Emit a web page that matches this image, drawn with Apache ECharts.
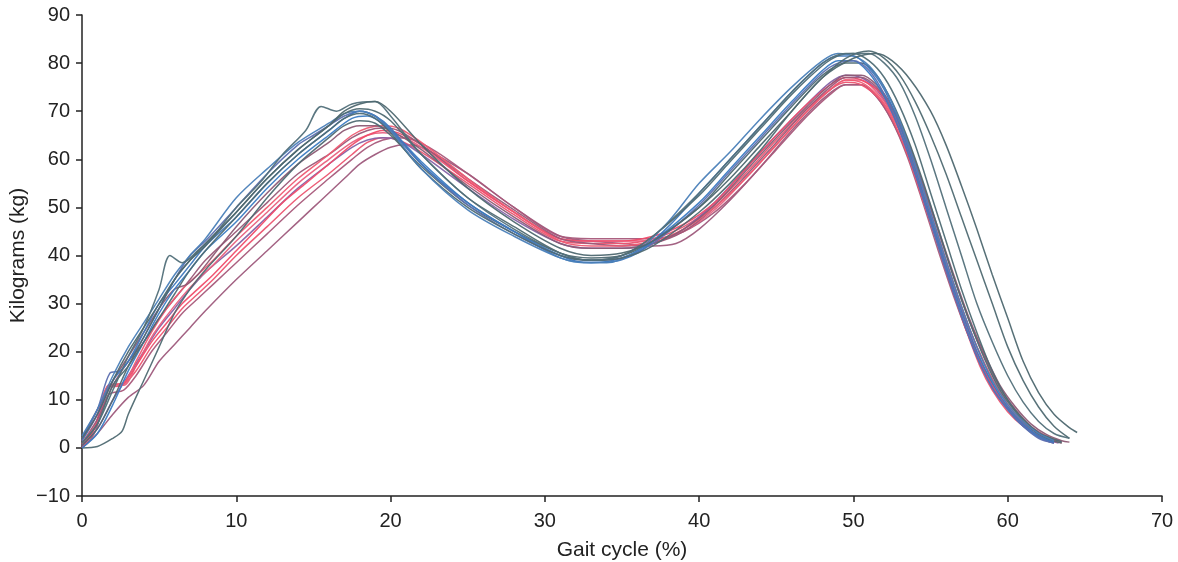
<!DOCTYPE html>
<html>
<head>
<meta charset="utf-8">
<script src="https://cdn.jsdelivr.net/npm/echarts@6/dist/echarts.min.js"></script>
<style>html,body{margin:0;padding:0;background:#fff}#c{width:1178px;height:562px}</style>
</head>
<body>
<div id="c"></div>
<script>
// ---- tick labels / axis ----
const xTicks = [0, 10, 20, 30, 40, 50, 60, 70];
const yTicks = [-10, 0, 10, 20, 30, 40, 50, 60, 70, 80, 90];
const xName = 'Gait cycle (%)';
const yName = 'Kilograms (kg)';

// ---- trials: [gait cycle %, kg] ----
const B1 = [[0,1],[1,5],[2,12],[3,19],[4,25],[5,33],[5.7,40],[6.5,38.5],[7.5,41],[8.5,44],[10,50],[11.5,55],[13,61],[14.5,66],[15.5,71],[16.5,70],[17.5,71.5],[19,72],[20,69],[22,61],[25,52],[28,45.5],[31,40.5],[33,39],[35,40],[37,44],[40,53],[42,60],[44,67],[46,74],[48,80],[49.5,82],[51,82],[52,80],[53,76],[54,69],[55,60],[56,50],[57,40],[58,30],[59,22],[60,15],[61,9.5],[62,5.5],[63,3],[64,2]];
const B2 = [[0,2],[1,7],[2,14],[3,20],[4,25],[5,30],[6,35],[7,39],[8,42.5],[10,49],[12,56],[14,62],[16,67],[17,70],[18,71.5],[19,72],[20,70],[22,63],[25,54],[28,47],[31,41.5],[33,40],[35,40.5],[37,43],[40,50],[42,56],[44,63],[46,70],[48,77],[50,81],[51.5,82],[52.5,80.5],[53.7,76.5],[55,70],[56,63],[57,54.5],[58,45.5],[59,36],[60,27],[61,18],[62,11.5],[63,7],[64,4.2],[64.5,3.2]];
const B3 = [[0,0.5],[1,4],[2,10],[3,17],[4,23],[5,29],[6,35],[7,39],[8,42],[10,49],[12,56],[14,62],[16,67],[17,69.5],[18,70.5],[19,70],[20,68],[22,61],[25,52],[28,46],[31,40.5],[33,39],[35,39.5],[37,42],[40,49],[42,55],[44,62],[46,70],[48,77],[49.5,81],[51,82.5],[52,81],[53,77.5],[54,72],[55,65],[56,57],[57,48],[58,39],[59,30],[60,21],[61,14],[62,8.5],[63,4.5],[64,2]];
const B4 = [[0,1.5],[1,7],[2,14],[3,18],[4,24],[5,30],[6,34],[7,38],[8,42],[10,48],[12,55],[14,61],[16,66],[17,68.5],[18,70],[19,69],[20,66.5],[22,59],[25,51],[28,45],[31,40],[32.5,38.6],[34,38.6],[36,40.5],[38,46],[40,53],[42,60],[44,67],[46,74],[48,80],[49,81.5],[50,81.5],[51,79],[52,74.5],[53,67],[54,58],[55,48],[56,38],[57,28.5],[58,20],[59,13.5],[60,8.5],[61,5],[62,2.5],[63,1.2]];
const B5 = [[0,0],[1,3],[2,9],[3,16],[4,22],[5,28],[6,33],[7,37],[8,41],[10,47],[12,54],[14,60],[16,65],[17.5,68.5],[18.5,69],[20,66],[22,59.5],[25,51],[28,45],[31,39.5],[33,38.5],[35,39.5],[37,43],[40,51],[42,58],[44,65],[46,72],[48,78.5],[49,80.5],[50,80.5],[51,78],[52,73],[53,66],[54,57],[55,47],[56,37],[57,27.5],[58,19],[59,12.5],[60,8],[61,4.5],[62,2.2],[63,1]];
const B6 = [[0,0],[1,0.3],[2,2],[2.6,3.5],[3,7],[4,14],[5,21],[6,28],[7,33],[8,37],[10,44],[12,52],[14,59],[16,64.5],[17,67],[18,68],[19,67.5],[20,65],[22,58.5],[25,50.5],[28,45],[31,40.5],[33,39.5],[35,40],[37,43],[40,50],[42,57],[44,64],[46,71],[48,77.5],[49.5,80],[50.5,80],[51.5,77.5],[52.5,72],[53.5,64.5],[54.5,55.5],[55.5,45.5],[56.5,35.5],[57.5,26.5],[58.5,18.5],[59.5,12],[60.5,7.5],[61.5,4],[62.5,2],[63.5,1]];
const B7 = [[0,2],[1,8],[1.8,15.5],[2.5,16],[3,18],[4,23],[5,29],[6,35],[7,40],[8,43],[10,50],[12,57],[14,63],[15,65],[16,67],[17,69],[18,70],[19,69],[20,66],[22,59],[25,50.5],[28,44.5],[31,40],[33,39],[35,39.5],[37,42.5],[40,50.5],[42,57.5],[44,64.5],[46,71.5],[48,78],[49,80],[50,80.5],[51,78.5],[52,73.5],[53,66],[54,57],[55,47],[56,37],[57,27.5],[58,19],[59,12.5],[60,8],[61,4.5],[62,2],[63,1]];
const B8 = [[0,1],[1,5],[2,13],[3,17],[4,22],[5,27],[6,32],[7,37],[8,41],[10,48],[12,55],[14,61],[16,66],[17,68.5],[18,69.5],[19,68.5],[20,65.5],[22,58],[25,50],[28,44.5],[31,40],[33,39],[35,40],[37,44],[40,52.5],[42,59.5],[44,66.5],[46,73.5],[48,79.5],[49,81.5],[50,82],[51,80.5],[52,77],[53,71],[54,63],[55,53],[56,43],[57,33],[58,24],[59,16],[60,10],[61,6],[62,3.2],[63,1.8],[63.5,1.3]];
const B9 = [[0,2.5],[1,8],[2,15],[3,21],[4,26],[5,31],[6,36],[7,40],[8,43.5],[10,52],[12,58],[14,63.5],[16,67.5],[17,69.5],[18,70],[19,69],[20,66],[22,58],[25,49.5],[28,44],[31,39.5],[32.5,38.5],[34,38.5],[36,41],[38,47],[40,55],[42,61.5],[44,68.5],[46,75],[48,80.5],[49,82],[50,81.5],[51,79.5],[52,75],[53,68],[54,59],[55,49],[56,39],[57,29.5],[58,21],[59,14],[60,9],[61,5.5],[62,3],[63,1.5]];
const R1 = [[0,0],[0.8,4],[1.7,13],[2.7,13.5],[3.5,17],[4.5,22],[5.5,26],[6.5,30],[7.5,33],[8.5,36],[10,41],[11.5,46],[13,51],[14.5,55],[16,59],[17.5,63],[18.5,65],[19.5,66],[20.5,65.5],[22,63],[25,55.5],[28,49],[31,43.5],[33,43],[35,43],[37,44],[39,46.5],[41,51],[43,58],[45,65],[47,71.5],[48.5,75.5],[49.5,77],[50.5,76.5],[51.7,74],[52.5,70],[53.5,63],[54.5,53.5],[55.5,44],[56.4,35],[57.3,26],[58.2,18],[59,13],[60.3,7.3],[61.5,4],[62.5,2.2],[63.2,1.5]];
const R2 = [[0,0],[1,3],[2,7],[3,10.5],[4,13],[5,18],[6,21.5],[7,25],[8,28.5],[10,35],[12,41],[14,47],[15,50],[16,53],[17,56],[18,59],[19,61],[20,62.5],[21,63],[22,62.5],[25,57],[28,50],[31,44],[33,43],[35,42.5],[37,42],[38.5,42.5],[40,45.5],[42,51.5],[44,58.5],[46,66],[48,72.5],[49.5,75.5],[50.5,75.5],[51.5,73],[52.5,68],[53.5,61],[54.5,52],[55.5,42],[56.5,32],[57.5,23],[58.5,16],[59.5,10.5],[60.5,6.5],[61.5,3.5],[62.5,1.5],[63,1]];
const R3 = [[0,0.5],[1,5],[1.7,12.5],[2.6,13],[3.5,16],[4.5,21],[5.5,25],[6.5,29],[7.5,32],[8.5,35],[10,40],[12,46],[14,52],[16,57],[17.5,61],[18.5,63.5],[19.5,64.5],[20.5,64],[22,61.5],[25,55],[28,48.5],[31,43],[33,42.5],[35,42.5],[37,43.5],[39,46],[41,50.5],[43,57],[45,64],[47,70.5],[48.5,74.5],[49.5,76],[50.5,75.5],[51.7,72.5],[52.5,68.5],[53.5,61],[54.5,51.5],[55.5,42],[56.4,33],[57.3,24.5],[58.2,17],[59,12],[60,7.5],[61,4.5],[62,2.5],[63,1.2]];
const R4 = [[0,1],[1,6],[2,13],[3,18],[4,22],[5,27],[6,31],[7,35],[8,39],[10,45],[12,51],[14,57],[16,61],[17.5,64.5],[18.5,66],[19.5,66.5],[20.5,66],[22,63],[25,56],[28,49.5],[31,43.5],[33,42.5],[35,42],[37,42.5],[39,45],[41,50],[43,56.5],[45,63.5],[47,70.5],[48.5,75],[49.5,77],[50.5,77],[51.5,75],[52.5,70.5],[53.5,63.5],[54.5,54.5],[55.5,45],[56.5,35.5],[57.5,26.5],[58.5,19],[59.5,12.5],[60.5,8],[61.5,4.5],[62.5,2.5],[63.5,1.2]];
const R5 = [[0,1.5],[1,7],[1.7,13],[2.7,13.5],[3.5,18],[4.5,24],[5.5,29],[6.5,33],[7.5,36],[8.5,39],[10,44],[12,50],[14,56],[16,61],[17.5,65],[18.5,66.5],[19.5,67],[20.5,66.5],[22,63.5],[25,56],[28,49],[31,43],[33,42],[35,42],[37,43],[39,45.5],[41,50],[43,56],[45,63],[47,70],[48.5,74.5],[49.5,76.5],[50.5,76],[51.5,73.5],[52.5,69],[53.5,62],[54.5,53],[55.5,43.5],[56.5,34],[57.5,25],[58.5,17.5],[59.5,11.5],[60.5,7],[61.5,4],[62.5,2],[63.2,1.2]];
const R6 = [[0,0.5],[1,4],[2,10],[3,15],[4,20],[5,25],[6,29],[7,33],[8,36.5],[10,42],[12,48],[14,54],[16,59],[17.5,62.5],[18.5,64],[19.5,64.5],[20.5,64],[22,61],[25,54],[28,47.5],[31,42.5],[33,41.5],[35,41.5],[37,42.5],[39,45.5],[41,51],[43,58],[45,65],[47,71.5],[48.5,76],[49.5,77.5],[50.5,77],[51.5,74.5],[52.5,69.5],[53.5,62],[54.5,52.5],[55.5,42.5],[56.5,33],[57.5,24],[58.5,16.5],[59.5,10.5],[60.5,6.5],[61.5,3.5],[62.5,1.8],[63.3,1]];
const R7 = [[0,0],[0.8,3],[1.7,11],[2.7,12],[3.5,15],[4.5,20],[5.5,24],[6.5,28],[7.5,31],[8.5,34],[10,38.5],[12,44.5],[14,50.5],[16,56],[17.5,60],[18.5,62.5],[19.5,64],[20.5,64.5],[21.5,64],[23,61.5],[25,57],[28,50],[31,44],[33,43.5],[35,43.5],[37,43.5],[39,45],[41,49],[43,55],[45,62],[47,69],[48.5,73.5],[49.5,75.5],[50.5,75.5],[51.5,73],[52.5,68],[53.5,60.5],[54.5,51],[55.5,41],[56.5,31.5],[57.5,23],[58.5,16],[59.5,10.5],[60.5,6.5],[61.5,3.5],[62.5,1.8],[63,1.2]];
const R8 = [[0,2],[1,8],[2,14],[3,19],[4,24],[5,29],[6,33],[6.8,34],[7.5,36],[8.5,40],[10,46],[12,53],[14,59],[16,63.5],[17,66],[18,67],[19,67],[20,66],[22,62],[25,54.5],[28,48],[31,42.5],[33,41.5],[35,41.5],[37,42.5],[39,45.5],[41,50.5],[43,57.5],[45,64.5],[47,71],[48.5,75.5],[49.5,77.5],[50.5,77.5],[51.5,75.5],[52.5,71],[53.5,64],[54.5,55],[55.5,45.5],[56.5,36],[57.5,27],[58.5,19.5],[59.5,13],[60.5,8.5],[61.5,5],[62.5,2.8],[63.5,1.5],[64,1.2]];
const R9 = [[0,0.8],[1,5.5],[1.8,13],[2.7,13],[3.5,17],[4.5,23],[5.5,27.5],[6.5,31.5],[7.5,35],[8.5,38],[10,43],[12,49],[14,55],[16,60],[17.5,63.5],[18.5,65],[19.5,65.5],[20.5,65],[22,62.5],[25,55.5],[28,49],[31,43.5],[33,43],[35,43],[37,43],[39,45],[41,49.5],[43,56],[45,63],[47,70],[48.5,74.5],[49.5,76.5],[50.5,76.5],[51.5,74],[52.5,69.5],[53.5,62],[54.5,53],[55.5,43.5],[56.5,34],[57.5,25],[58.5,17.5],[59.5,11.5],[60.5,7],[61.5,4],[62.5,2.2],[63.5,1]];

const trials = [
  ['R2', R2, '#9e5a7c'], ['R7', R7, '#a8587a'], ['R3', R3, '#ec5470'], ['R6', R6, '#8462a6'],
  ['R9', R9, '#e8607e'], ['R1', R1, '#f04c6a'], ['R4', R4, '#9a5878'], ['R5', R5, '#ef5a72'],
  ['R8', R8, '#8d5a74'],
  ['B6', B6, '#4f6a72'], ['B5', B5, '#3b7cc3'], ['B7', B7, '#5d6fb0'], ['B4', B4, '#3f78bd'],
  ['B8', B8, '#4e6b74'], ['B9', B9, '#4a7fb8'], ['B3', B3, '#4f6a72'], ['B1', B1, '#52707a'],
  ['B2', B2, '#4e6870']
];

const font = '"Liberation Sans", Arial, Helvetica, sans-serif';
const axisCol = '#222';

const chart = echarts.init(document.getElementById('c'), null, {renderer: 'canvas'});
chart.setOption({
  animation: false,
  backgroundColor: '#fff',
  grid: {left: 82, right: 16, top: 15, bottom: 66, containLabel: false, outerBoundsMode: 'none'},
  xAxis: {
    type: 'value', min: xTicks[0], max: xTicks[xTicks.length - 1], interval: 10,
    name: xName, nameLocation: 'middle', nameGap: 44, nameMoveOverlap: false,
    nameTextStyle: {fontFamily: font, fontSize: 21, color: axisCol},
    axisLine: {show: true, onZero: false, lineStyle: {color: axisCol, width: 1.5}},
    axisTick: {show: true, length: 6, lineStyle: {color: axisCol, width: 1.5}},
    axisLabel: {fontFamily: font, fontSize: 20, color: axisCol, margin: 15},
    splitLine: {show: false}
  },
  yAxis: {
    type: 'value', min: yTicks[0], max: yTicks[yTicks.length - 1], interval: 10,
    name: yName, nameLocation: 'middle', nameGap: 53, nameRotate: 90, nameMoveOverlap: false,
    nameTextStyle: {fontFamily: font, fontSize: 21, color: axisCol},
    axisLine: {show: true, onZero: false, lineStyle: {color: axisCol, width: 1.5}},
    axisTick: {show: true, length: 6, lineStyle: {color: axisCol, width: 1.5}},
    axisLabel: {fontFamily: font, fontSize: 20, color: axisCol, margin: 12,
      formatter: v => String(v).replace('-', '\u2212')},
    splitLine: {show: false}
  },
  series: trials.map(t => ({
    name: t[0], type: 'line', data: t[1], showSymbol: false, smooth: 0.3,
    lineStyle: {color: t[2], width: 1.5, opacity: 0.95}, z: 2
  }))
});
</script>
</body>
</html>
